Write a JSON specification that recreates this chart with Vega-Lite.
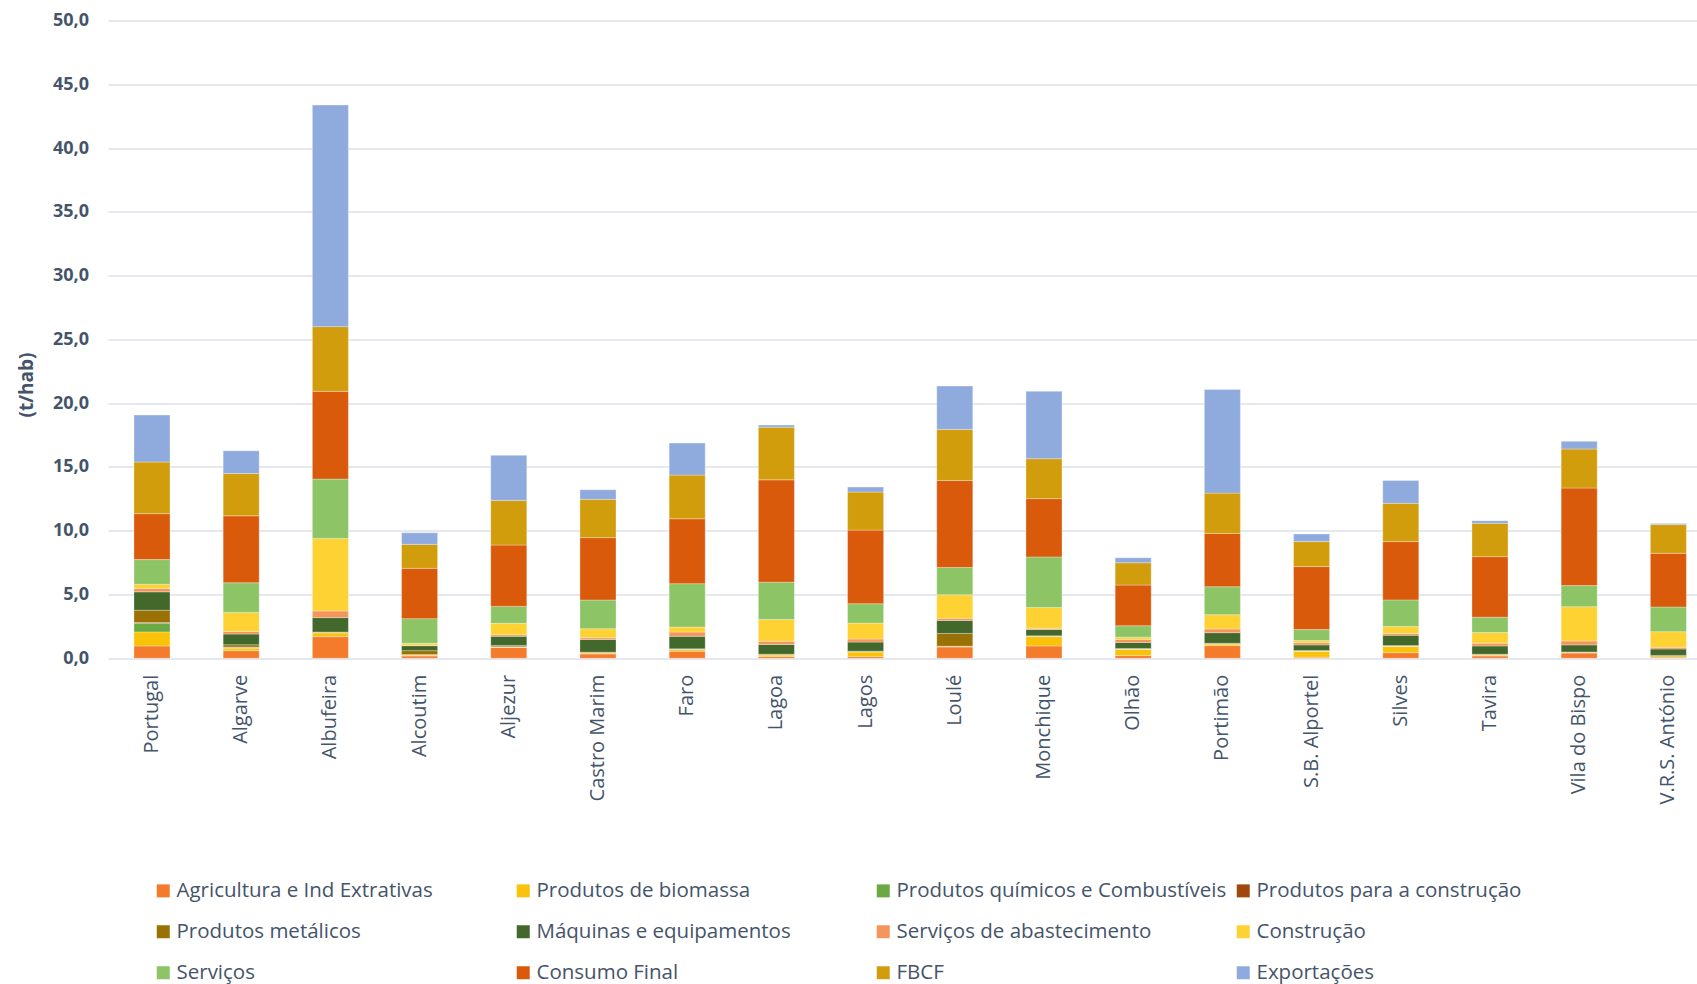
{
  "$schema": "https://vega.github.io/schema/vega-lite/v6.json",
  "autosize": "none",
  "width": 1589,
  "height": 637.8,
  "padding": {"left": 108, "top": 20.5, "right": 0, "bottom": 325.7},
  "background": "#ffffff",
  "config": {
    "view": {"stroke": null},
    "font": "Open Sans"
  },
  "datasets": {
    "series": [
      {"Serie": "Agricultura e Ind Extrativas", "Ordem": 1},
      {"Serie": "Produtos de biomassa", "Ordem": 2},
      {"Serie": "Produtos químicos e Combustíveis", "Ordem": 3},
      {"Serie": "Produtos para a construção", "Ordem": 4},
      {"Serie": "Produtos metálicos", "Ordem": 5},
      {"Serie": "Máquinas e equipamentos", "Ordem": 6},
      {"Serie": "Serviços de abastecimento", "Ordem": 7},
      {"Serie": "Construção", "Ordem": 8},
      {"Serie": "Serviços", "Ordem": 9},
      {"Serie": "Consumo Final", "Ordem": 10},
      {"Serie": "FBCF", "Ordem": 11},
      {"Serie": "Exportações", "Ordem": 12}
    ]
  },
  "data": {
    "values": [
      {"Municipio": "Portugal", "Agricultura e Ind Extrativas": 0.97, "Produtos de biomassa": 1.10, "Produtos químicos e Combustíveis": 0.68, "Produtos para a construção": 0.05, "Produtos metálicos": 0.97, "Máquinas e equipamentos": 1.44, "Serviços de abastecimento": 0.26, "Construção": 0.34, "Serviços": 1.93, "Consumo Final": 3.60, "FBCF": 4.05, "Exportações": 3.68},
      {"Municipio": "Algarve", "Agricultura e Ind Extrativas": 0.60, "Produtos de biomassa": 0.18, "Produtos químicos e Combustíveis": 0.08, "Produtos para a construção": 0.02, "Produtos metálicos": 0.18, "Máquinas e equipamentos": 0.84, "Serviços de abastecimento": 0.21, "Construção": 1.49, "Serviços": 2.32, "Consumo Final": 5.25, "FBCF": 3.32, "Exportações": 1.78},
      {"Municipio": "Albufeira", "Agricultura e Ind Extrativas": 1.70, "Produtos de biomassa": 0.29, "Produtos químicos e Combustíveis": 0.03, "Produtos para a construção": 0.01, "Produtos metálicos": 0.03, "Máquinas e equipamentos": 1.13, "Serviços de abastecimento": 0.52, "Construção": 5.69, "Serviços": 4.65, "Consumo Final": 6.88, "FBCF": 5.07, "Exportações": 17.37},
      {"Municipio": "Alcoutim", "Agricultura e Ind Extrativas": 0.18, "Produtos de biomassa": 0.08, "Produtos químicos e Combustíveis": 0.02, "Produtos para a construção": 0.01, "Produtos metálicos": 0.31, "Máquinas e equipamentos": 0.39, "Serviços de abastecimento": 0.03, "Construção": 0.16, "Serviços": 1.93, "Consumo Final": 3.94, "FBCF": 1.88, "Exportações": 0.91},
      {"Municipio": "Aljezur", "Agricultura e Ind Extrativas": 0.86, "Produtos de biomassa": 0.02, "Produtos químicos e Combustíveis": 0.02, "Produtos para a construção": 0.01, "Produtos metálicos": 0.10, "Máquinas e equipamentos": 0.71, "Serviços de abastecimento": 0.13, "Construção": 0.89, "Serviços": 1.33, "Consumo Final": 4.81, "FBCF": 3.50, "Exportações": 3.53},
      {"Municipio": "Castro Marim", "Agricultura e Ind Extrativas": 0.34, "Produtos de biomassa": 0.08, "Produtos químicos e Combustíveis": 0.02, "Produtos para a construção": 0.01, "Produtos metálicos": 0.03, "Máquinas e equipamentos": 1.00, "Serviços de abastecimento": 0.13, "Construção": 0.71, "Serviços": 2.25, "Consumo Final": 4.89, "FBCF": 3.00, "Exportações": 0.76},
      {"Municipio": "Faro", "Agricultura e Ind Extrativas": 0.55, "Produtos de biomassa": 0.13, "Produtos químicos e Combustíveis": 0.02, "Produtos para a construção": 0.01, "Produtos metálicos": 0.03, "Máquinas e equipamentos": 0.98, "Serviços de abastecimento": 0.34, "Construção": 0.39, "Serviços": 3.40, "Consumo Final": 5.09, "FBCF": 3.42, "Exportações": 2.51},
      {"Municipio": "Lagoa", "Agricultura e Ind Extrativas": 0.13, "Produtos de biomassa": 0.13, "Produtos químicos e Combustíveis": 0.02, "Produtos para a construção": 0.01, "Produtos metálicos": 0.03, "Máquinas e equipamentos": 0.76, "Serviços de abastecimento": 0.26, "Construção": 1.70, "Serviços": 2.93, "Consumo Final": 8.02, "FBCF": 4.13, "Exportações": 0.16},
      {"Municipio": "Lagos", "Agricultura e Ind Extrativas": 0.13, "Produtos de biomassa": 0.37, "Produtos químicos e Combustíveis": 0.02, "Produtos para a construção": 0.01, "Produtos metálicos": 0.03, "Máquinas e equipamentos": 0.71, "Serviços de abastecimento": 0.24, "Construção": 1.25, "Serviços": 1.52, "Consumo Final": 5.77, "FBCF": 2.98, "Exportações": 0.39},
      {"Municipio": "Loulé", "Agricultura e Ind Extrativas": 0.89, "Produtos de biomassa": 0.03, "Produtos químicos e Combustíveis": 0.02, "Produtos para a construção": 0.01, "Produtos metálicos": 1.00, "Máquinas e equipamentos": 1.02, "Serviços de abastecimento": 0.16, "Construção": 1.85, "Serviços": 2.14, "Consumo Final": 6.82, "FBCF": 4.00, "Exportações": 3.40},
      {"Municipio": "Monchique", "Agricultura e Ind Extrativas": 0.97, "Produtos de biomassa": 0.73, "Produtos químicos e Combustíveis": 0.02, "Produtos para a construção": 0.01, "Produtos metálicos": 0.03, "Máquinas e equipamentos": 0.50, "Serviços de abastecimento": 0.10, "Construção": 1.62, "Serviços": 3.97, "Consumo Final": 4.57, "FBCF": 3.13, "Exportações": 5.28},
      {"Municipio": "Olhão", "Agricultura e Ind Extrativas": 0.21, "Produtos de biomassa": 0.50, "Produtos químicos e Combustíveis": 0.02, "Produtos para a construção": 0.01, "Produtos metálicos": 0.03, "Máquinas e equipamentos": 0.47, "Serviços de abastecimento": 0.24, "Construção": 0.18, "Serviços": 0.89, "Consumo Final": 3.19, "FBCF": 1.75, "Exportações": 0.39},
      {"Municipio": "Portimão", "Agricultura e Ind Extrativas": 0.99, "Produtos de biomassa": 0.13, "Produtos químicos e Combustíveis": 0.02, "Produtos para a construção": 0.01, "Produtos metálicos": 0.03, "Máquinas e equipamentos": 0.83, "Serviços de abastecimento": 0.29, "Construção": 1.12, "Serviços": 2.19, "Consumo Final": 4.18, "FBCF": 3.16, "Exportações": 8.12},
      {"Municipio": "S.B. Alportel", "Agricultura e Ind Extrativas": 0.08, "Produtos de biomassa": 0.47, "Produtos químicos e Combustíveis": 0.02, "Produtos para a construção": 0.01, "Produtos metálicos": 0.03, "Máquinas e equipamentos": 0.44, "Serviços de abastecimento": 0.18, "Construção": 0.16, "Serviços": 0.86, "Consumo Final": 4.94, "FBCF": 1.96, "Exportações": 0.60},
      {"Municipio": "Silves", "Agricultura e Ind Extrativas": 0.44, "Produtos de biomassa": 0.50, "Produtos químicos e Combustíveis": 0.02, "Produtos para a construção": 0.01, "Produtos metálicos": 0.03, "Máquinas e equipamentos": 0.81, "Serviços de abastecimento": 0.13, "Construção": 0.55, "Serviços": 2.09, "Consumo Final": 4.57, "FBCF": 3.00, "Exportações": 1.78},
      {"Municipio": "Tavira", "Agricultura e Ind Extrativas": 0.18, "Produtos de biomassa": 0.08, "Produtos químicos e Combustíveis": 0.02, "Produtos para a construção": 0.01, "Produtos metálicos": 0.03, "Máquinas e equipamentos": 0.65, "Serviços de abastecimento": 0.21, "Construção": 0.84, "Serviços": 1.20, "Consumo Final": 4.75, "FBCF": 2.61, "Exportações": 0.21},
      {"Municipio": "Vila do Bispo", "Agricultura e Ind Extrativas": 0.42, "Produtos de biomassa": 0.02, "Produtos químicos e Combustíveis": 0.02, "Produtos para a construção": 0.01, "Produtos metálicos": 0.03, "Máquinas e equipamentos": 0.55, "Serviços de abastecimento": 0.31, "Construção": 2.69, "Serviços": 1.65, "Consumo Final": 7.65, "FBCF": 3.06, "Exportações": 0.60},
      {"Municipio": "V.R.S. António", "Agricultura e Ind Extrativas": 0.02, "Produtos de biomassa": 0.10, "Produtos químicos e Combustíveis": 0.02, "Produtos para a construção": 0.01, "Produtos metálicos": 0.08, "Máquinas e equipamentos": 0.50, "Serviços de abastecimento": 0.13, "Construção": 1.23, "Serviços": 1.93, "Consumo Final": 4.21, "FBCF": 2.25, "Exportações": 0.08}
    ]
  },
  "transform": [
    {"fold": ["Agricultura e Ind Extrativas", "Produtos de biomassa", "Produtos químicos e Combustíveis", "Produtos para a construção", "Produtos metálicos", "Máquinas e equipamentos", "Serviços de abastecimento", "Construção", "Serviços", "Consumo Final", "FBCF", "Exportações"], "as": ["Serie", "Valor"]},
    {"lookup": "Serie", "from": {"data": {"name": "series"}, "key": "Serie", "fields": ["Ordem"]}}
  ],
  "mark": {"type": "bar", "stroke": "#ffffff", "strokeWidth": 0.5, "strokeOpacity": 0.6},
  "encoding": {
    "x": {
      "field": "Municipio",
      "type": "nominal",
      "sort": ["Portugal", "Algarve", "Albufeira", "Alcoutim", "Aljezur", "Castro Marim", "Faro", "Lagoa", "Lagos", "Loulé", "Monchique", "Olhão", "Portimão", "S.B. Alportel", "Silves", "Tavira", "Vila do Bispo", "V.R.S. António"],
      "scale": {"paddingInner": 0.596, "paddingOuter": 0.205, "align": 0.71},
      "axis": {
        "title": null,
        "labelAngle": -90,
        "labelAlign": "right",
        "labelBaseline": "middle",
        "labelPadding": 16,
        "labelFont": "Open Sans",
        "labelFontSize": 20,
        "labelColor": "#44546A",
        "ticks": false,
        "domain": false,
        "grid": false
      }
    },
    "y": {
      "field": "Valor",
      "type": "quantitative",
      "stack": "zero",
      "scale": {"domain": [0, 50], "nice": false},
      "axis": {
        "title": "(t/hab)",
        "titleFont": "Open Sans",
        "titleFontSize": 19,
        "titleFontWeight": "bold",
        "titleColor": "#44546A",
        "titleAngle": -90,
        "titleX": -81.3,
        "titleY": 364,
        "titleAlign": "center",
        "titleBaseline": "middle",
        "values": [0, 5, 10, 15, 20, 25, 30, 35, 40, 45, 50],
        "labelExpr": "replace(format(datum.value, '.1f'), '.', ',')",
        "labelFont": "Open Sans",
        "labelFontSize": 18,
        "labelFontWeight": "bold",
        "labelColor": "#44546A",
        "labelPadding": 19.5,
        "ticks": false,
        "domain": false,
        "grid": true,
        "gridColor": "#DDE2EA",
        "gridWidth": 1.6
      }
    },
    "order": {"field": "Ordem", "type": "quantitative", "sort": "ascending"},
    "color": {
      "field": "Serie",
      "type": "nominal",
      "sort": ["Agricultura e Ind Extrativas", "Produtos de biomassa", "Produtos químicos e Combustíveis", "Produtos para a construção", "Produtos metálicos", "Máquinas e equipamentos", "Serviços de abastecimento", "Construção", "Serviços", "Consumo Final", "FBCF", "Exportações"],
      "scale": {
        "domain": ["Agricultura e Ind Extrativas", "Produtos de biomassa", "Produtos químicos e Combustíveis", "Produtos para a construção", "Produtos metálicos", "Máquinas e equipamentos", "Serviços de abastecimento", "Construção", "Serviços", "Consumo Final", "FBCF", "Exportações"],
        "range": ["#F47B2C", "#FBC20A", "#6BAA42", "#9E480E", "#9A7104", "#43682B", "#F4955B", "#FFD234", "#8DC466", "#DA5A0C", "#D29D0C", "#8FABDD"]
      },
      "legend": {
        "title": null,
        "orient": "none",
        "legendX": 45,
        "legendY": 860,
        "direction": "horizontal",
        "columns": 4,
        "gridAlign": "all",
        "columnPadding": 6,
        "rowPadding": 20,
        "padding": 0,
        "symbolType": "square",
        "symbolSize": 169,
        "symbolStrokeWidth": 0,
        "symbolOpacity": 1,
        "labelOffset": 3,
        "labelFont": "Open Sans",
        "labelFontSize": 20.5,
        "labelColor": "#44546A",
        "labelLimit": 500
      }
    }
  }
}
